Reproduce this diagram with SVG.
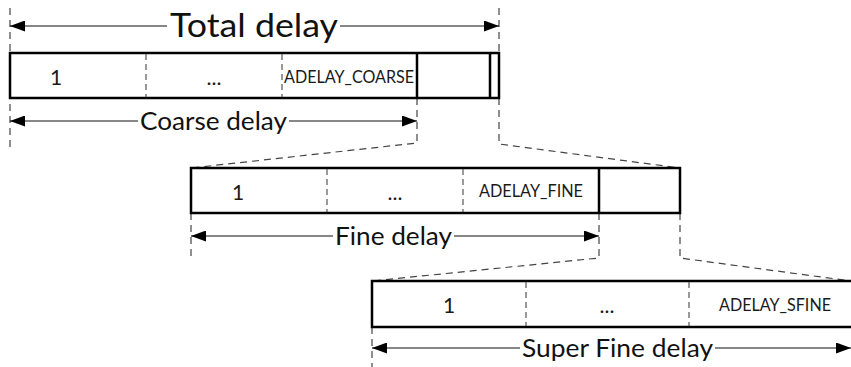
<svg xmlns="http://www.w3.org/2000/svg" width="851" height="367" viewBox="0 0 851 367">
<style>
.box{fill:#fff;stroke:#000;stroke-width:2.5}
.solid{stroke:#000;stroke-width:2.5}
.div{stroke:#555;stroke-width:1.2;stroke-dasharray:6,4}
.guide{fill:none;stroke:#444;stroke-width:1.2;stroke-dasharray:7,5}
.arr{stroke:#111;stroke-width:1.2}
.big{font-family:Lato,"Liberation Sans",sans-serif;fill:#111}
.lbl{font-family:Lato,"Liberation Sans",sans-serif;fill:#1a1a1a;font-size:16.5px}
.num{font-family:Lato,"Liberation Sans",sans-serif;fill:#1a1a1a;font-size:21px;text-anchor:middle}
</style>
<defs>
<marker id="ah" markerUnits="userSpaceOnUse" markerWidth="15" markerHeight="11" refX="15" refY="5.5" orient="auto-start-reverse">
<path d="M0,0 L15,5.5 L0,11 z" fill="#000"/>
</marker>
</defs>
<g id="guides">
<polyline class="guide" points="10,8 10,147"/>
<polyline class="guide" points="499,8 499,53"/>
<polyline class="guide" points="417,98 417,143 191,168"/>
<polyline class="guide" points="499,98 499,144 680,168"/>
<polyline class="guide" points="191,213 191,258"/>
<polyline class="guide" points="599,213 599,258 372,281"/>
<polyline class="guide" points="680,213 680,258 851,281"/>
<polyline class="guide" points="372,327 372,367"/>
</g>
<g id="row-coarse">
<rect class="box" x="10" y="53" width="489" height="45"/>
<line class="div" x1="146" y1="54" x2="146" y2="97"/>
<line class="div" x1="282" y1="54" x2="282" y2="97"/>
<line class="solid" x1="417" y1="53" x2="417" y2="98"/>
<line class="solid" x1="490" y1="53" x2="490" y2="98"/>
<text class="num" x="56" y="85">1</text>
<text class="num" x="214" y="85">...</text>
<text class="lbl" x="284" y="83" textLength="130" lengthAdjust="spacingAndGlyphs">ADELAY_COARSE</text>
</g>
<g id="row-fine">
<rect class="box" x="191" y="168" width="489" height="45"/>
<line class="div" x1="327" y1="169" x2="327" y2="212"/>
<line class="div" x1="463" y1="169" x2="463" y2="212"/>
<line class="solid" x1="599" y1="168" x2="599" y2="213"/>
<text class="num" x="238" y="200">1</text>
<text class="num" x="395" y="200">...</text>
<text class="lbl" x="479" y="197" textLength="104" lengthAdjust="spacingAndGlyphs">ADELAY_FINE</text>
</g>
<g id="row-superfine">
<rect class="box" x="372" y="281" width="492" height="46"/>
<line class="div" x1="526" y1="282" x2="526" y2="326"/>
<line class="div" x1="689" y1="282" x2="689" y2="326"/>
<text class="num" x="449" y="313">1</text>
<text class="num" x="607" y="313">...</text>
<text class="lbl" x="719" y="311" textLength="112" lengthAdjust="spacingAndGlyphs">ADELAY_SFINE</text>
</g>
<g id="connectors">
<line class="arr" x1="167" y1="26" x2="10" y2="26" marker-end="url(#ah)"/>
<line class="arr" x1="340" y1="26" x2="499" y2="26" marker-end="url(#ah)"/>
<line class="arr" x1="138" y1="121" x2="10" y2="121" marker-end="url(#ah)"/>
<line class="arr" x1="289" y1="121" x2="417" y2="121" marker-end="url(#ah)"/>
<line class="arr" x1="333" y1="236" x2="191" y2="236" marker-end="url(#ah)"/>
<line class="arr" x1="454" y1="236" x2="599" y2="236" marker-end="url(#ah)"/>
<line class="arr" x1="520" y1="348" x2="372" y2="348" marker-end="url(#ah)"/>
<line class="arr" x1="715" y1="348" x2="851" y2="348" marker-end="url(#ah)"/>
</g>
<g id="labels">
<text class="big" x="170" y="37" font-size="32" textLength="168" lengthAdjust="spacingAndGlyphs">Total delay</text>
<text class="big" x="140" y="130" font-size="25.5" textLength="147" lengthAdjust="spacingAndGlyphs">Coarse delay</text>
<text class="big" x="335" y="245" font-size="25.5" textLength="117" lengthAdjust="spacingAndGlyphs">Fine delay</text>
<text class="big" x="522" y="357" font-size="25.5" textLength="191" lengthAdjust="spacingAndGlyphs">Super Fine delay</text>
</g>
</svg>
